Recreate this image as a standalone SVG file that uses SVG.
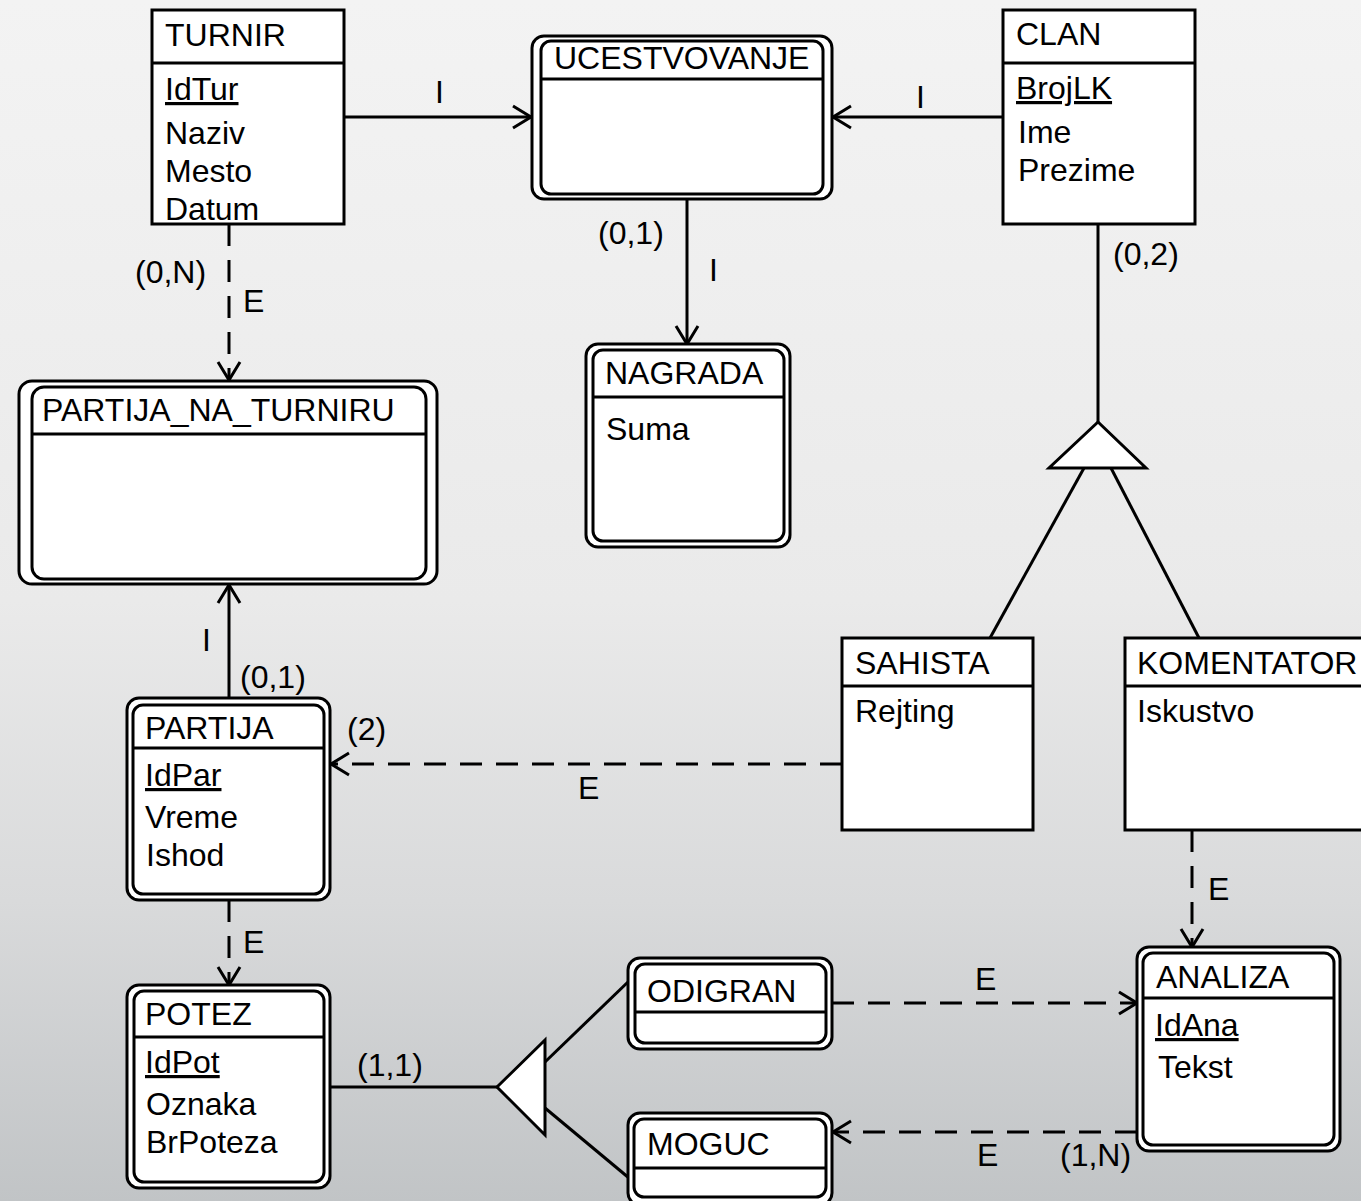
<svg xmlns="http://www.w3.org/2000/svg" width="1361" height="1201" viewBox="0 0 1361 1201">
<defs>
<linearGradient id="bg" x1="0" y1="0" x2="0" y2="1">
<stop offset="0" stop-color="#f3f3f3"/>
<stop offset="0.5" stop-color="#eaeaea"/>
<stop offset="0.75" stop-color="#d9dadb"/>
<stop offset="1" stop-color="#c1c4c6"/>
</linearGradient>
<marker id="arr" viewBox="-20 -13 22 26" refX="0" refY="0" markerWidth="22" markerHeight="26" orient="auto" markerUnits="userSpaceOnUse" overflow="visible">
<path d="M-18,-11 L0,0 L-18,11" fill="none" stroke="#000" stroke-width="3" stroke-dasharray="none"/>
</marker>
<style>
.box{fill:#fff;stroke:#000;stroke-width:3}
.div{stroke:#000;stroke-width:3}
.ln{stroke:#000;stroke-width:3;fill:none}
.dash{stroke-dasharray:22 14}
.tri{fill:#fff;stroke:#000;stroke-width:3;stroke-linejoin:miter}
text{font-family:"Liberation Sans",Arial,sans-serif;font-size:32px;fill:#000}
.ul{text-decoration:underline}
</style>
</defs>
<rect x="0" y="0" width="1361" height="1201" fill="url(#bg)"/>

<g id="connectors">
<path class="ln" d="M344,117 L531,117" marker-end="url(#arr)"/>
<path class="ln" d="M1003,117 L833,117" marker-end="url(#arr)"/>
<path class="ln" d="M687,199 L687,344" marker-end="url(#arr)"/>
<path class="ln" d="M1098,224 L1098,422"/>
<path class="ln" d="M1084,468 L990,638"/>
<path class="ln" d="M1111,468 L1199,638"/>
<path class="ln dash" d="M229,224 L229,380" marker-end="url(#arr)"/>
<path class="ln" d="M229,698 L229,585" marker-end="url(#arr)"/>
<path class="ln dash" d="M842,764 L331,764" marker-end="url(#arr)"/>
<path class="ln dash" d="M229,900 L229,985" marker-end="url(#arr)"/>
<path class="ln" d="M330,1087 L497,1087"/>
<path class="ln" d="M545,1062 L629,981"/>
<path class="ln" d="M545,1108 L629,1178"/>
<path class="ln dash" d="M832,1003 L1137,1003" marker-end="url(#arr)"/>
<path class="ln dash" d="M1137,1132 L833,1132" marker-end="url(#arr)"/>
<path class="ln dash" d="M1192,830 L1192,947" marker-end="url(#arr)"/>
<polygon class="tri" points="1098,422 1049,468 1146,468"/>
<polygon class="tri" points="497,1087 545,1040 545,1135"/>
<text x="435" y="103">I</text>
<text x="916" y="108">I</text>
<text x="598" y="244">(0,1)</text>
<text x="709" y="281">I</text>
<text x="1113" y="265">(0,2)</text>
<text x="135" y="283">(0,N)</text>
<text x="243" y="312">E</text>
<text x="202" y="651">I</text>
<text x="240" y="688">(0,1)</text>
<text x="347" y="740">(2)</text>
<text x="578" y="799">E</text>
<text x="243" y="953">E</text>
<text x="357" y="1076">(1,1)</text>
<text x="1208" y="900">E</text>
<text x="975" y="990">E</text>
<text x="977" y="1166">E</text>
<text x="1060" y="1166">(1,N)</text>
</g>

<g id="TURNIR">
<rect class="box" x="152" y="10" width="192" height="214"/>
<line class="div" x1="152" y1="63" x2="344" y2="63"/>
<text x="165" y="46">TURNIR</text>
<text class="ul" x="165" y="100">IdTur</text>
<text x="165" y="144">Naziv</text>
<text x="165" y="182">Mesto</text>
<text x="165" y="220">Datum</text>
</g>

<g id="UCESTVOVANJE">
<rect class="box" x="532" y="36" width="300" height="163" rx="12"/>
<rect class="box" x="541" y="41" width="282" height="153" rx="10"/>
<line class="div" x1="541" y1="79" x2="823" y2="79"/>
<text x="554" y="69">UCESTVOVANJE</text>
</g>

<g id="CLAN">
<rect class="box" x="1003" y="10" width="192" height="214"/>
<line class="div" x1="1003" y1="63" x2="1195" y2="63"/>
<text x="1016" y="45">CLAN</text>
<text class="ul" x="1016" y="99">BrojLK</text>
<text x="1018" y="143">Ime</text>
<text x="1018" y="181">Prezime</text>
</g>

<g id="NAGRADA">
<rect class="box" x="586" y="344" width="204" height="203" rx="12"/>
<rect class="box" x="593" y="350" width="191" height="191" rx="10"/>
<line class="div" x1="593" y1="397" x2="784" y2="397"/>
<text x="605" y="384">NAGRADA</text>
<text x="606" y="440">Suma</text>
</g>

<g id="PARTIJA_NA_TURNIRU">
<rect class="box" x="19" y="381" width="418" height="203" rx="13"/>
<rect class="box" x="32" y="387" width="394" height="192" rx="12"/>
<line class="div" x1="32" y1="434" x2="426" y2="434"/>
<text x="42" y="421">PARTIJA_NA_TURNIRU</text>
</g>

<g id="PARTIJA">
<rect class="box" x="127" y="698" width="203" height="202" rx="12"/>
<rect class="box" x="133" y="705" width="191" height="189" rx="10"/>
<line class="div" x1="133" y1="748" x2="324" y2="748"/>
<text x="145" y="739">PARTIJA</text>
<text class="ul" x="145" y="786">IdPar</text>
<text x="145" y="828">Vreme</text>
<text x="146" y="866">Ishod</text>
</g>

<g id="POTEZ">
<rect class="box" x="127" y="985" width="203" height="203" rx="12"/>
<rect class="box" x="134" y="991" width="190" height="191" rx="10"/>
<line class="div" x1="134" y1="1037" x2="324" y2="1037"/>
<text x="145" y="1025">POTEZ</text>
<text class="ul" x="145" y="1073">IdPot</text>
<text x="146" y="1115">Oznaka</text>
<text x="146" y="1153">BrPoteza</text>
</g>

<g id="ODIGRAN">
<rect class="box" x="628" y="958" width="204" height="91" rx="12"/>
<rect class="box" x="635" y="964" width="191" height="79" rx="10"/>
<line class="div" x1="635" y1="1012" x2="826" y2="1012"/>
<text x="647" y="1002">ODIGRAN</text>
</g>

<g id="MOGUC">
<rect class="box" x="628" y="1113" width="204" height="92" rx="12"/>
<rect class="box" x="634" y="1119" width="192" height="78" rx="10"/>
<line class="div" x1="634" y1="1168" x2="826" y2="1168"/>
<text x="647" y="1155">MOGUC</text>
</g>

<g id="ANALIZA">
<rect class="box" x="1137" y="947" width="203" height="204" rx="12"/>
<rect class="box" x="1143" y="953" width="191" height="192" rx="10"/>
<line class="div" x1="1143" y1="998" x2="1334" y2="998"/>
<text x="1156" y="988">ANALIZA</text>
<text class="ul" x="1155" y="1036">IdAna</text>
<text x="1158" y="1078">Tekst</text>
</g>

<g id="SAHISTA">
<rect class="box" x="842" y="638" width="191" height="192"/>
<line class="div" x1="842" y1="686" x2="1033" y2="686"/>
<text x="855" y="674">SAHISTA</text>
<text x="855" y="722">Rejting</text>
</g>

<g id="KOMENTATOR">
<rect class="box" x="1125" y="638" width="260" height="192"/>
<line class="div" x1="1125" y1="686" x2="1385" y2="686"/>
<text x="1137" y="674">KOMENTATOR</text>
<text x="1137" y="722">Iskustvo</text>
</g>
</svg>
